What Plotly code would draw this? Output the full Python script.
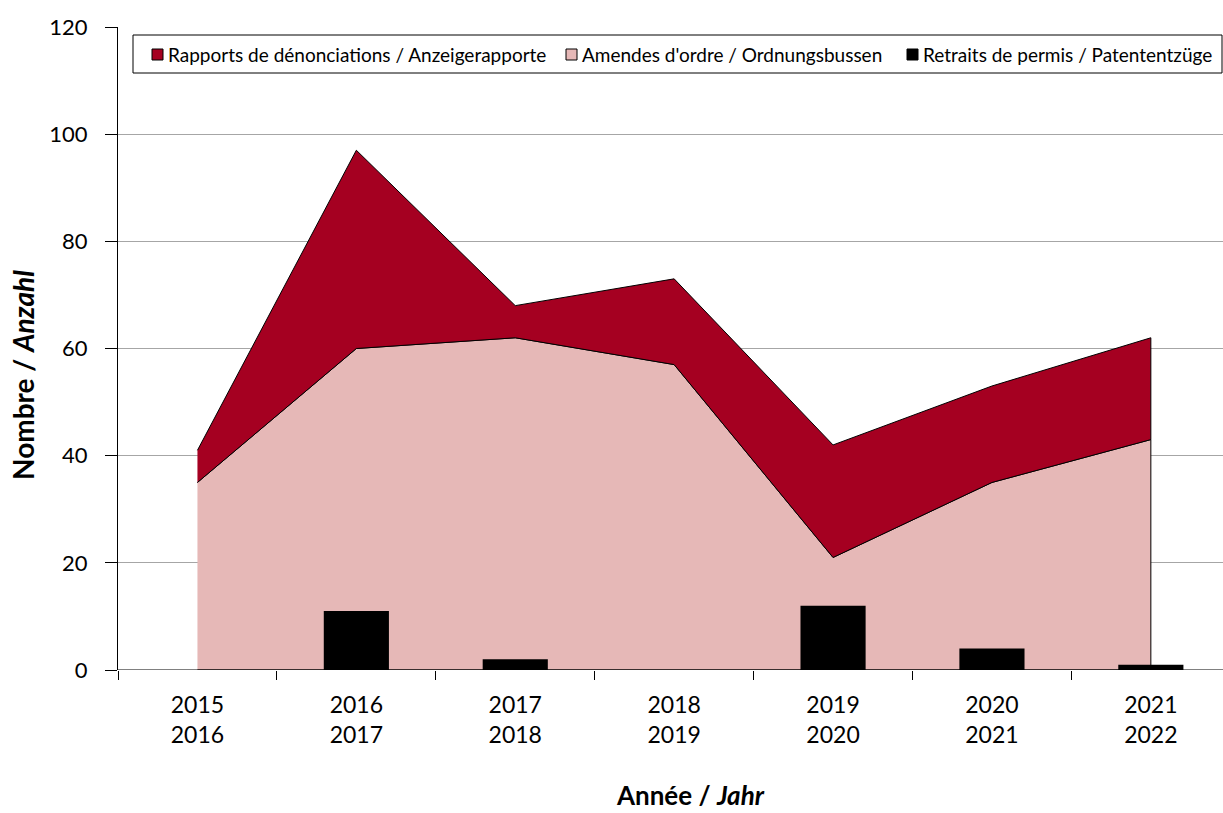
import plotly.graph_objects as go

# Saisons / Jahre
seasons = ["2015<br>2016", "2016<br>2017", "2017<br>2018", "2018<br>2019",
           "2019<br>2020", "2020<br>2021", "2021<br>2022"]
amendes = [35, 60, 62, 57, 21, 35, 43]        # Amendes d'ordre / Ordnungsbussen
rapports = [6, 37, 6, 16, 21, 18, 19]         # Rapports de dénonciations / Anzeigerapporte
retraits = [0, 11, 2, 0, 12, 4, 1]            # Retraits de permis / Patententzüge
y_ticks = [0, 20, 40, 60, 80, 100, 120]

names = ["Rapports de dénonciations / Anzeigerapporte",
         "Amendes d'ordre / Ordnungsbussen",
         "Retraits de permis / Patententzüge"]

FONT = "Lato, Carlito, Calibri, sans-serif"
RED = "#A50021"
PINK = "#E6B8B7"
colors = [RED, PINK, "black"]

W, H = 1223, 813
ML, MT, MB = 118, 27, 143
PW, PH = W - ML, H - MT - MB


def px(x):
    return (x - ML) / PW


def py(y):
    return (H - MB - y) / PH


idx = list(range(len(seasons)))
totals = [a + r for a, r in zip(amendes, rapports)]

fig = go.Figure()

# lower band: amendes, closed down to the baseline
fig.add_trace(go.Scatter(
    x=idx + idx[::-1], y=amendes + [0] * len(idx),
    fill="toself", fillcolor=PINK, mode="lines",
    line=dict(color="black", width=1),
    name=names[1], showlegend=False, hoverinfo="skip",
))
# upper band: rapports stacked on amendes
fig.add_trace(go.Scatter(
    x=idx + idx[::-1], y=totals + amendes[::-1],
    fill="toself", fillcolor=RED, mode="lines",
    line=dict(color="black", width=1),
    name=names[0], showlegend=False, hoverinfo="skip",
))
# bars on an overlaid subplot so they sit above the areas
fig.add_trace(go.Bar(
    x=idx, y=retraits, width=0.41, xaxis="x2", yaxis="y2",
    marker=dict(color="black", line=dict(width=0)),
    name=names[2], showlegend=False,
))

XR = [-0.5, -0.5 + PW / 158.9]

fig.update_layout(
    width=W, height=H,
    margin=dict(l=ML, r=0, t=MT, b=MB),
    plot_bgcolor="white", paper_bgcolor="white",
    font=dict(family=FONT, size=22, color="black"),
    showlegend=False,
    xaxis=dict(
        range=XR, tickvals=idx, ticktext=seasons,
        ticks="", showgrid=False, zeroline=False, showline=False,
        minor=dict(ticks="outside", tick0=-0.5, dtick=1, ticklen=9,
                   tickcolor="black", tickwidth=1, showgrid=False),
        tickfont=dict(size=23), ticklabelstandoff=19,
    ),
    yaxis=dict(
        range=[0, 120], tickvals=y_ticks, ticks="outside", ticklen=12,
        tickcolor="black", showline=True, linecolor="black", linewidth=1,
        showgrid=True, gridcolor="#A6A6A6", gridwidth=1, zeroline=False,
        tickfont=dict(size=22), ticklabelstandoff=13,
    ),
    xaxis2=dict(range=XR, overlaying="x", visible=False),
    yaxis2=dict(range=[0, 120], overlaying="y", visible=False),
    barmode="overlay",
)

# axis titles
fig.add_annotation(text="<b>Année / <i>Jahr</i></b>", x=px(690), y=py(795),
                   xref="paper", yref="paper", showarrow=False,
                   xanchor="center", yanchor="middle", font=dict(size=26))
fig.add_annotation(text="<b>Nombre / <i>Anzahl</i></b>", textangle=-90,
                   x=px(23), y=py(375), xref="paper", yref="paper",
                   showarrow=False, xanchor="center", yanchor="middle",
                   font=dict(size=28))

# x baseline along y = 0
fig.add_shape(type="line", xref="paper", yref="y", x0=0, x1=1, y0=0, y1=0,
              line=dict(color="black", width=1))

# legend box with square keys
fig.add_shape(type="rect", xref="paper", yref="paper",
              x0=px(133), x1=px(1222), y0=py(35), y1=py(73),
              line=dict(color="black", width=1), fillcolor="white")
key_x = [152, 566, 907]
for kx, name, col in zip(key_x, names, colors):
    fig.add_shape(type="rect", xref="paper", yref="paper",
                  x0=px(kx), x1=px(kx + 11), y0=py(49), y1=py(60),
                  line=dict(color="black", width=1), fillcolor=col)
    fig.add_annotation(text=name, x=px(kx + 14), y=py(55), xref="paper",
                       yref="paper", showarrow=False, xanchor="left",
                       yanchor="middle", font=dict(size=19))

fig.write_html("out.html")
